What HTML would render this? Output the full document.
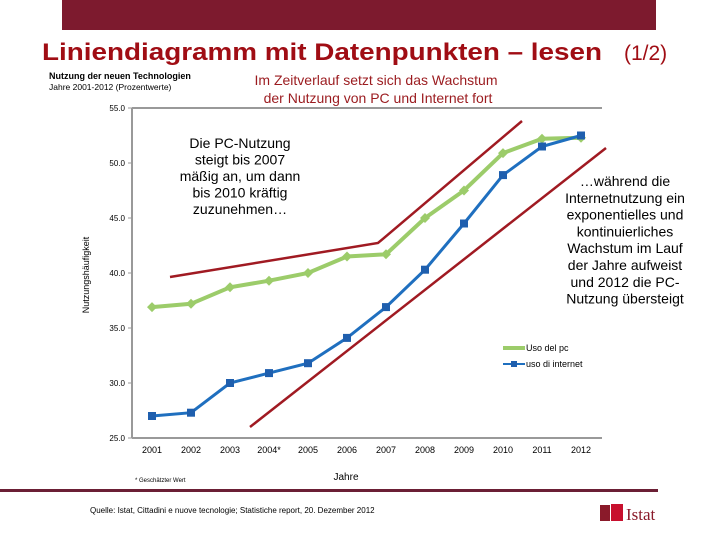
<!DOCTYPE html>
<html><head><meta charset="utf-8"><style>
body{margin:0;width:720px;height:540px;background:#fff;overflow:hidden;font-family:"Liberation Sans",sans-serif}
</style></head><body>
<svg width="720" height="540" xmlns="http://www.w3.org/2000/svg" font-family="Liberation Sans, sans-serif">
<rect x="62" y="0" width="594" height="30" fill="#7d1a2e"/>
<text x="42" y="60" font-size="24" font-weight="bold" fill="#a00d14" textLength="560" lengthAdjust="spacingAndGlyphs">Liniendiagramm mit Datenpunkten – lesen</text>
<text x="624" y="60" font-size="21" fill="#a00d14">(1/2)</text>
<text x="49" y="79" font-size="9" font-weight="bold" fill="#000">Nutzung der neuen Technologien</text>
<text x="49" y="90" font-size="8.5" fill="#000">Jahre 2001-2012 (Prozentwerte)</text>
<text x="376" y="85" font-size="14" fill="#9b1b1f" text-anchor="middle"><tspan x="376">Im Zeitverlauf setzt sich das Wachstum</tspan><tspan x="378" dy="18">der Nutzung von PC und Internet fort</tspan></text>
<text font-size="14" fill="#000" text-anchor="middle"><tspan x="240" y="148">Die PC-Nutzung</tspan><tspan x="240" dy="16.5">steigt bis 2007</tspan><tspan x="240" dy="16.5">mäßig an, um dann</tspan><tspan x="240" dy="16.5">bis 2010 kräftig</tspan><tspan x="240" dy="16.5">zuzunehmen…</tspan></text>
<text font-size="14" fill="#000" text-anchor="middle"><tspan x="625" y="186">…während die</tspan><tspan x="625" dy="16.8">Internetnutzung ein</tspan><tspan x="625" dy="16.8">exponentielles und</tspan><tspan x="625" dy="16.8">kontinuierliches</tspan><tspan x="625" dy="16.8">Wachstum im Lauf</tspan><tspan x="625" dy="16.8">der Jahre aufweist</tspan><tspan x="625" dy="16.8">und 2012 die PC-</tspan><tspan x="625" dy="16.8">Nutzung übersteigt</tspan></text>
<text transform="translate(89,275) rotate(-90)" font-size="9" text-anchor="middle">Nutzungshäufigkeit</text>
<text x="346" y="480" font-size="10" text-anchor="middle">Jahre</text>
<text x="135" y="482" font-size="6">* Geschätzter Wert</text>
<rect x="0" y="489" width="658" height="3" fill="#6b1f35"/>
<text x="90" y="513" font-size="8">Quelle: Istat, Cittadini e nuove tecnologie; Statistiche report, 20. Dezember 2012</text>
<rect x="600" y="505" width="10" height="16" fill="#8a1a2a"/>
<rect x="611" y="504" width="12" height="17" fill="#c8102e"/>
<text x="626" y="520" font-size="17" font-family="Liberation Serif, serif" fill="#8a1a2a">Istat</text>
<g id="chart"></g>
</svg>
<script>
const years=['2001','2002','2003','2004*','2005','2006','2007','2008','2009','2010','2011','2012'];
const pcValues=[36.9,37.2,38.7,39.3,40.0,41.5,41.7,45.0,47.5,50.9,52.2,52.3];
const internetValues=[27.0,27.3,30.0,30.9,31.8,34.1,36.9,40.3,44.5,48.9,51.5,52.5];
const yTicks=[25,30,35,40,45,50,55];
const NS='http://www.w3.org/2000/svg';
const g=document.getElementById('chart');
const x0=132,x1=602,yTop=108,yBot=438;
const xs=i=>152+i*(581-152)/11;
const ys=v=>yBot-(v-25)*(yBot-yTop)/30;
function mk(t,a){const e=document.createElementNS(NS,t);for(const k in a)e.setAttribute(k,a[k]);g.appendChild(e);return e;}
let e=mk('line',{x1:x0,y1:yTop,x2:x0,y2:yBot,stroke:'#999','stroke-width':2});


e=mk('line',{x1:x0,y1:yBot,x2:x1,y2:yBot,stroke:'#999','stroke-width':2});


e=mk('line',{x1:x0,y1:yTop,x2:x1,y2:yTop,stroke:'#999','stroke-width':2});


yTicks.forEach(v=>{
 let t=mk('text',{x:125,y:ys(v)+3,'font-size':8,'text-anchor':'end'});t.textContent=v.toFixed(1);
 
 
 let l=mk('line',{x1:x0-4,y1:ys(v),x2:x0,y2:ys(v),stroke:'#999'});
 
 
});
years.forEach((y,i)=>{
 let t=mk('text',{x:xs(i),y:453,'font-size':9,'text-anchor':'middle'});t.textContent=y;
 
 
});
// trend lines
e=mk('polyline',{points:'170,277 378,243 522,121',fill:'none',stroke:'#a01a22','stroke-width':2.5});


e=mk('line',{x1:250,y1:427,x2:606,y2:148,stroke:'#a01a22','stroke-width':2.5});


e=mk('polyline',{points:pcValues.map((v,i)=>xs(i)+','+ys(v)).join(' '),fill:'none',stroke:'#9ccc6a','stroke-width':4});


pcValues.forEach((v,i)=>{const cx=xs(i),cy=ys(v);
 let m=mk('polygon',{points:`${cx},${cy-5} ${cx+5},${cy} ${cx},${cy+5} ${cx-5},${cy}`,fill:'#9ccc6a'});
 
 
});
e=mk('polyline',{points:internetValues.map((v,i)=>xs(i)+','+ys(v)).join(' '),fill:'none',stroke:'#1f6fbf','stroke-width':3});


internetValues.forEach((v,i)=>{
 let m=mk('rect',{x:xs(i)-4,y:ys(v)-4,width:8,height:8,fill:'#1f5fae'});
 
 
});
// legend
e=mk('line',{x1:503,y1:348,x2:525,y2:348,stroke:'#9ccc6a','stroke-width':4});


e=mk('text',{x:526,y:351,'font-size':9});e.textContent='Uso del pc';


e=mk('line',{x1:503,y1:364,x2:525,y2:364,stroke:'#1f6fbf','stroke-width':2});


e=mk('rect',{x:511,y:361,width:6,height:6,fill:'#1f5fae'});


e=mk('text',{x:526,y:367,'font-size':9});e.textContent='uso di internet';


</script>
</body></html>
